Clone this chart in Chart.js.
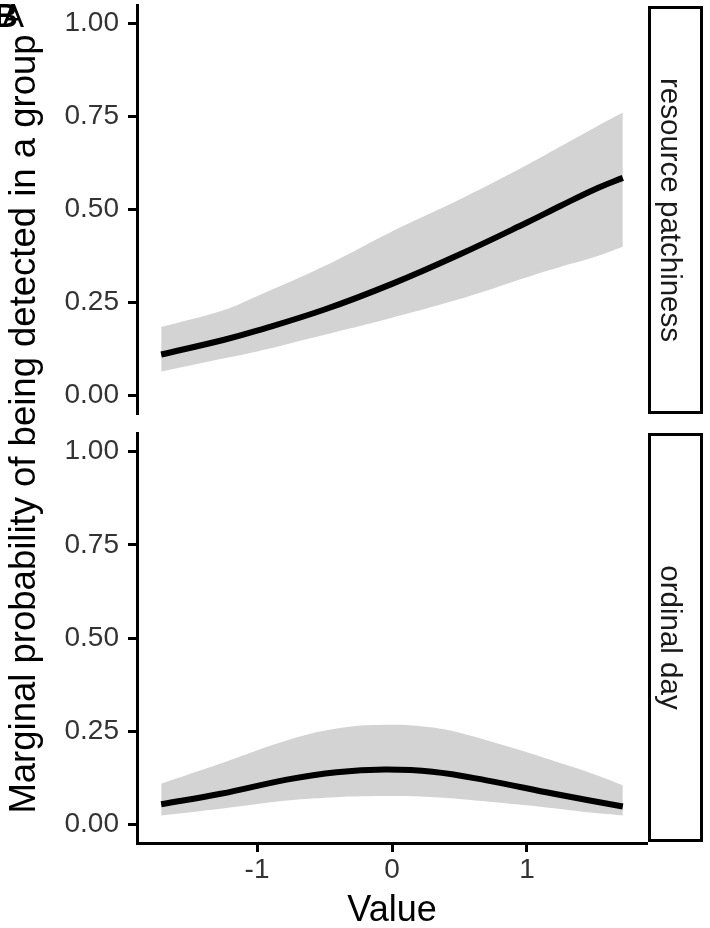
<!DOCTYPE html>
<html><head><meta charset="utf-8">
<script src="https://cdn.jsdelivr.net/npm/chart.js@4.4.1/dist/chart.umd.min.js"></script>
<style>
html,body{margin:0;padding:0;background:#fff;}
#wrap{position:relative;width:710px;height:928px;overflow:hidden;}
canvas{position:absolute;left:0;top:0;}
</style></head><body>
<div id="wrap"><canvas id="c1" width="710" height="928"></canvas><canvas id="c2" width="710" height="928"></canvas></div>
<script>
// ---- data ----
const panelLabels = ['resource patchiness', 'ordinal day'];
const yTitle = 'Marginal probability of being detected in a group';
const xTitle = 'Value';
const yTicks = [0, 0.25, 0.5, 0.75, 1];
const xTicks = [-1, 0, 1];

const patchX     = [-1.71, -1.25, -1, -0.5, 0, 0.5, 1, 1.25, 1.5, 1.71];
const patchMean  = [0.110, 0.149, 0.174, 0.231, 0.300, 0.379, 0.465, 0.510, 0.554, 0.585];
const patchUpper = [0.184, 0.229, 0.267, 0.348, 0.441, 0.527, 0.620, 0.670, 0.720, 0.761];
const patchLower = [0.064, 0.099, 0.118, 0.163, 0.209, 0.259, 0.318, 0.346, 0.372, 0.400];

const dayX     = [-1.71, -1.27, -0.78, -0.41, -0.05, 0.30, 0.70, 1.20, 1.71];
const dayMean  = [0.054, 0.082, 0.120, 0.140, 0.147, 0.141, 0.118, 0.082, 0.048];
const dayBandX = [-1.71, -1.27, -0.78, -0.41, -0.05, 0.25, 0.50, 0.94, 1.20, 1.43, 1.71];
const dayUpper = [0.109, 0.163, 0.225, 0.257, 0.267, 0.262, 0.246, 0.200, 0.170, 0.143, 0.105];
const dayLower = [0.024, 0.042, 0.064, 0.073, 0.076, 0.074, 0.068, 0.053, 0.043, 0.033, 0.024];

// ---- styling ----
const FONT = '"Liberation Sans", Arial, Helvetica, sans-serif';
const BAND = '#d3d3d3';
const AX = 3;
const TENSION = 0.4;

function pts(xs, ys){ return xs.map((x,i)=>({x:x, y:ys[i]})); }

function drawStrip(ctx, top, bottom, label){
  ctx.save();
  ctx.lineWidth = AX; ctx.strokeStyle = '#000';
  ctx.strokeRect(649.5, top + 1.5, 52, bottom - top - 3);
  ctx.fillStyle = '#1a1a1a';
  ctx.font = '29.5px ' + FONT;
  ctx.textAlign = 'center'; ctx.textBaseline = 'alphabetic';
  ctx.translate(661, (top + bottom) / 2);
  ctx.rotate(Math.PI / 2);
  ctx.fillText(label, 0, 0);
  ctx.restore();
}

const annot1 = { id: 'annot1', afterDraw(chart){
  const ctx = chart.ctx;
  drawStrip(ctx, 6, 414, panelLabels[0]);
  ctx.save();
  ctx.fillStyle = '#000';
  ctx.font = '36.5px ' + FONT;
  ctx.textAlign = 'center'; ctx.textBaseline = 'alphabetic';
  ctx.translate(35, 424); ctx.rotate(-Math.PI/2);
  ctx.fillText(yTitle, 0, 0);
  ctx.restore();
  ctx.save();
  ctx.fillStyle = '#000';
  ctx.textAlign = 'left'; ctx.textBaseline = 'alphabetic';
  ctx.font = 'bold 33px ' + FONT;
  ctx.fillText('B', -6, 27);
  ctx.font = '33px ' + FONT;
  ctx.fillText('A', 2, 27);
  ctx.restore();
}};
const annot2 = { id: 'annot2', afterDraw(chart){
  const ctx = chart.ctx;
  drawStrip(ctx, 433, 842, panelLabels[1]);
  ctx.save();
  ctx.fillStyle = '#000';
  ctx.font = '36px ' + FONT;
  ctx.textAlign = 'center'; ctx.textBaseline = 'alphabetic';
  ctx.fillText(xTitle, 392, 921);
  ctx.restore();
}};

function makeChart(id, cfg){
  return new Chart(document.getElementById(id), {
    type: 'line',
    data: { datasets: [
      { data: pts(cfg.bx, cfg.up), fill: '+1', backgroundColor: BAND, borderWidth: 0, borderColor: 'rgba(0,0,0,0)', pointRadius: 0, tension: TENSION, order: 2 },
      { data: pts(cfg.bx, cfg.lo), fill: false, borderWidth: 0, borderColor: 'rgba(0,0,0,0)', pointRadius: 0, tension: TENSION, order: 3 },
      { data: pts(cfg.mx, cfg.mean), fill: false, borderColor: '#000', borderWidth: 6, pointRadius: 0, tension: TENSION, borderCapStyle: 'butt', order: 0 }
    ]},
    options: {
      responsive: false, animation: false, devicePixelRatio: 1, events: [],
      layout: { padding: { top: cfg.top, bottom: cfg.bottom, left: 0, right: 63 } },
      plugins: { legend: { display: false }, tooltip: { enabled: false }, filler: { drawTime: 'beforeDatasetsDraw' } },
      scales: {
        x: {
          type: 'linear', min: -1.889, max: 1.889, display: cfg.showX,
          afterBuildTicks: s => { s.ticks = xTicks.map(v => ({ value: v })); },
          afterFit: s => { s.height = cfg.showX ? 85 : 0; s.paddingLeft = 0; s.paddingRight = 0; },
          grid: { display: true, drawOnChartArea: false, drawTicks: true, tickLength: 9, tickWidth: AX, tickColor: '#000' },
          border: { display: true, width: AX, color: '#000' },
          ticks: { font: { size: 28, family: FONT }, color: '#333', padding: 1, callback: v => String(v) }
        },
        y: {
          type: 'linear', min: -0.05, max: 1.05,
          afterBuildTicks: s => { s.ticks = yTicks.map(v => ({ value: v })); },
          afterFit: s => { s.width = 137; s.paddingTop = 0; s.paddingBottom = 0; },
          grid: { display: true, drawOnChartArea: false, drawTicks: true, tickLength: 9, tickWidth: AX, tickColor: '#000' },
          border: { display: true, width: AX, color: '#000' },
          ticks: { font: { size: 28, family: FONT }, color: '#333', padding: 9, callback: v => Number(v).toFixed(2) }
        }
      }
    },
    plugins: [cfg.plugin]
  });
}

makeChart('c1', { bx: patchX, up: patchUpper, lo: patchLower, mx: patchX, mean: patchMean, top: 5, bottom: 514, showX: false, plugin: annot1 });
makeChart('c2', { bx: dayBandX, up: dayUpper, lo: dayLower, mx: dayX, mean: dayMean, top: 433, bottom: 0, showX: true, plugin: annot2 });
</script>
</body></html>
